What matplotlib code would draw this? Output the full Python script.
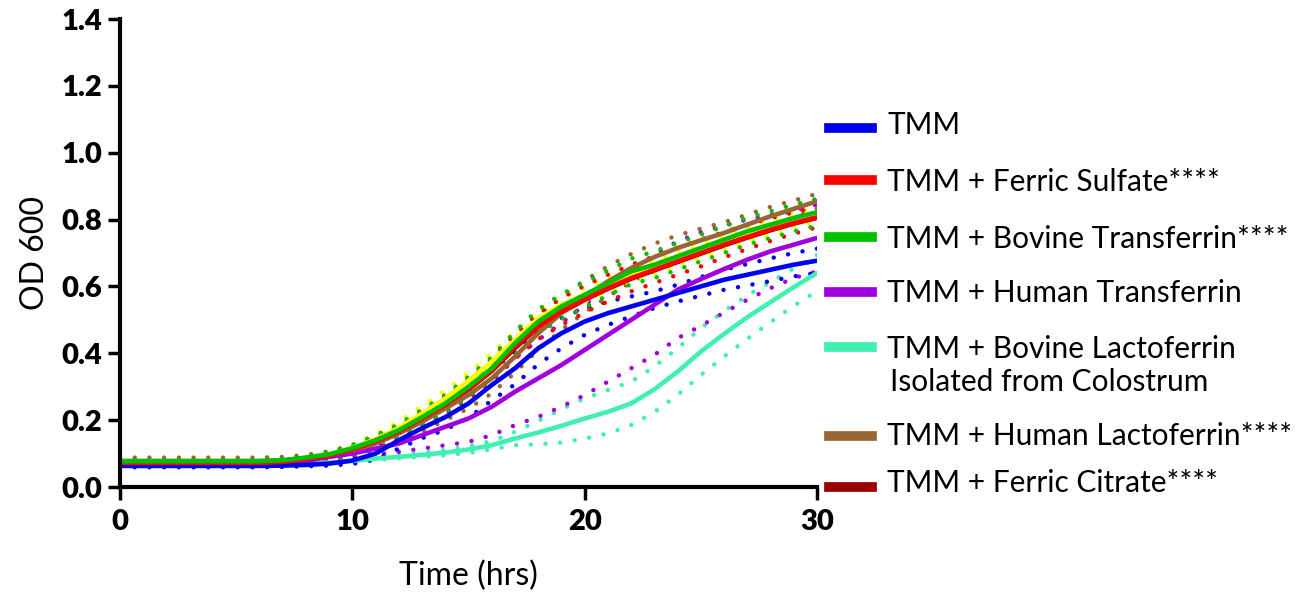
import numpy as np
import matplotlib.pyplot as plt
from matplotlib.lines import Line2D

plt.rcParams['font.family'] = ['Lato', 'DejaVu Sans']

# time points (hrs)
t = np.arange(0, 31)

# mean OD600 per condition
tmm = [.063, .063, .063, .063, .063, .063, .063, .064, .066, .070, .079, .100, .140, .176, .209, .250,
       .305, .355, .415, .460, .495, .520, .540, .560, .580, .600, .620, .635, .650, .665, .677]
ferric_sulfate = [.072, .072, .072, .072, .072, .072, .072, .075, .083, .094, .112, .136, .166, .205, .245, .295,
                  .350, .420, .480, .525, .562, .595, .625, .650, .675, .700, .725, .748, .770, .790, .807]
bov_transferrin = [.077, .077, .077, .077, .077, .077, .077, .080, .088, .098, .116, .140, .170, .209, .250, .300,
                   .355, .430, .495, .540, .575, .610, .645, .665, .690, .715, .740, .765, .785, .805, .822]
hum_transferrin = [.068, .068, .068, .068, .068, .068, .068, .070, .078, .090, .100, .115, .130, .155, .180, .205,
                   .240, .285, .325, .365, .410, .455, .500, .545, .590, .622, .652, .680, .705, .725, .745]
bov_lactoferrin = [.068, .068, .068, .068, .068, .068, .068, .068, .070, .073, .078, .085, .090, .096, .103, .112,
                   .125, .145, .163, .183, .205, .225, .250, .292, .345, .405, .458, .508, .553, .598, .640]
hum_lactoferrin = [.078, .078, .078, .078, .078, .078, .078, .080, .086, .095, .110, .130, .160, .195, .235, .275,
                   .325, .390, .460, .520, .570, .615, .655, .688, .715, .738, .760, .785, .810, .832, .855]
ferric_citrate = [.072, .072, .072, .072, .072, .072, .072, .075, .082, .093, .110, .134, .164, .203, .243, .292,
                  .347, .415, .478, .522, .560, .593, .623, .648, .673, .698, .723, .746, .768, .788, .805]
extra_yellow = [.074, .074, .074, .074, .074, .074, .074, .077, .085, .097, .117, .143, .177, .220, .265, .318,
                .375, .440, .505, .545, .575, .605, .635, .658, .682, .706, .730, .755, .778, .800, .815]

# standard deviation per condition
tmm_sd = [.004] * 9 + [.006, .010, .018, .025, .030, .038, .043, .046, .048, .048, .045, .040, .035, .030,
                       .025, .025, .028, .030, .032, .034, .035, .036]
ferric_sulfate_sd = [.004] * 9 + [.006, .010, .014, .018, .022, .026, .030, .034, .036, .038, .040, .040, .040,
                                  .040, .040, .040, .040, .038, .036, .034, .032, .030]
bov_transferrin_sd = [.004] * 9 + [.006, .010, .014, .018, .022, .026, .030, .033, .035, .036, .037, .037, .037,
                                   .038, .040, .040, .040, .040, .040, .040, .040, .040]
hum_transferrin_sd = [.004] * 9 + [.008, .012, .018, .025, .040, .055, .070, .085, .100, .115, .125, .135, .140,
                                   .145, .150, .145, .140, .130, .120, .110, .100, .100]
bov_lactoferrin_sd = [.004] * 13 + [.006, .008, .010, .012, .020, .035, .050, .060, .065, .065, .068, .070, .070,
                                    .068, .065, .060, .056, .054]
hum_lactoferrin_sd = [.010] * 9 + [.012, .015, .020, .025, .030, .035, .040, .045, .048, .050, .050, .048, .045,
                                   .042, .040, .038, .035, .032, .030, .028, .025, .022]
extra_yellow_sd = [.004] * 9 + [.006, .010, .015, .020, .022, .024, .025, .025, .025, .024, .022, .020, .020,
                                .020, .020, .020, .020, .020, .020, .020, .020, .020]

series = [
    ("TMM + Ferric Citrate****", ferric_citrate, None, '#990000'),
    ("TMM + Bovine Lactoferrin\n Isolated from Colostrum", bov_lactoferrin, bov_lactoferrin_sd, '#40F0B0'),
    ("TMM + Human Transferrin", hum_transferrin, hum_transferrin_sd, '#A000E0'),
    ("TMM", tmm, tmm_sd, '#0000F0'),
    ("TMM + Human Lactoferrin****", hum_lactoferrin, hum_lactoferrin_sd, '#996633'),
    (None, extra_yellow, extra_yellow_sd, '#FFFF00'),
    ("TMM + Ferric Sulfate****", ferric_sulfate, ferric_sulfate_sd, '#FF0000'),
    ("TMM + Bovine Transferrin****", bov_transferrin, bov_transferrin_sd, '#00C000'),
]

W, H = 1307, 603
fig = plt.figure(figsize=(W / 100, H / 100), dpi=100)
ax = fig.add_axes([120 / W, 1 - 487 / H, 697 / W, 468 / H])

dot = dict(linestyle=(0, (0.01, 3.3)), lw=3.2, dash_capstyle='round')
for name, m, sd, c in series:
    m = np.array(m)
    if sd is not None:
        sd = np.array(sd)
        ax.plot(t, m + sd, color=c, **dot)
        ax.plot(t, m - sd, color=c, **dot)
for name, m, sd, c in series:
    ax.plot(t, m, color=c, lw=3.3, solid_capstyle='round')

ax.set_xlim(0, 30)
ax.set_ylim(0, 1.4)
ax.set_xticks([0, 10, 20, 30])
ax.set_yticks(np.arange(0, 1.41, 0.2))
ax.set_yticklabels(['%.1f' % v for v in np.arange(0, 1.41, 0.2)])
for s in ['top', 'right']:
    ax.spines[s].set_visible(False)
for s in ['left', 'bottom']:
    ax.spines[s].set_linewidth(3)
ax.tick_params(width=2.5, length=9, pad=4)
ax.tick_params(axis='x', pad=7)
for lab in ax.get_xticklabels() + ax.get_yticklabels():
    lab.set_fontweight('heavy')
    lab.set_fontsize(21)
ax.set_xlabel("Time (hrs)", fontsize=23, labelpad=18)
ax.set_ylabel("OD 600", fontsize=23, labelpad=8)

# legend drawn by hand
legend_rows = [
    ("TMM", '#0000F0', 128, [125]),
    ("TMM + Ferric Sulfate****", '#FF0000', 180, [182]),
    ("TMM + Bovine Transferrin****", '#00C000', 237, [239]),
    ("TMM + Human Transferrin", '#A000E0', 292, [293]),
    ("TMM + Bovine Lactoferrin", '#40F0B0', 347, [349]),
    ("TMM + Human Lactoferrin****", '#996633', 436, [436]),
    ("TMM + Ferric Citrate****", '#990000', 487, [483]),
]
for name, c, ly, ty in legend_rows:
    fig.add_artist(Line2D([829 / W, 872 / W], [1 - ly / H, 1 - ly / H], color=c, lw=7,
                          transform=fig.transFigure))
    fig.text(887 / W, 1 - ty[0] / H, name, fontsize=21.5, va='center', ha='left')
fig.text(890 / W, 1 - 382 / H, "Isolated from Colostrum", fontsize=21.5, va='center', ha='left')

fig.savefig("out.png", dpi=100)
